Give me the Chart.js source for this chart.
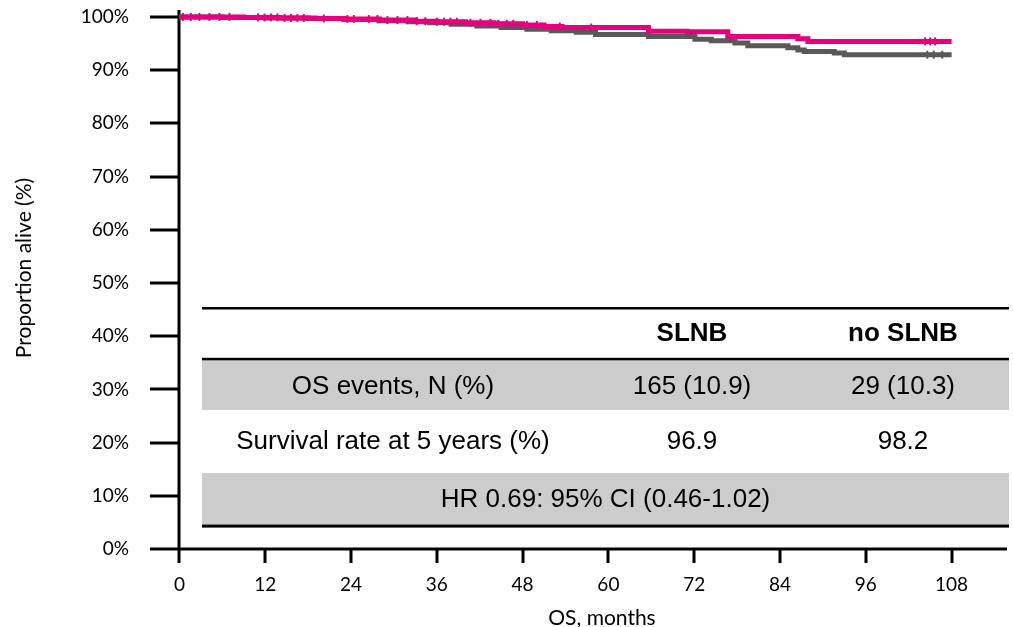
<!DOCTYPE html>
<html>
<head>
<meta charset="utf-8">
<script src="https://cdn.jsdelivr.net/npm/chart.js@4.4.0/dist/chart.umd.min.js"></script>
<style>
html,body{margin:0;padding:0;background:#ffffff;}
#wrap{width:1013px;height:627px;position:relative;}
canvas{display:block;}
</style>
</head>
<body>
<div id="wrap"><canvas id="c" width="1013" height="627"></canvas></div>
<script>
// ---- data ----
const xTicks = [0, 12, 24, 36, 48, 60, 72, 84, 96, 108];
const yTicks = [0, 10, 20, 30, 40, 50, 60, 70, 80, 90, 100];

// no SLNB (pink) Kaplan-Meier steps: time (months) and survival (%)
const noSlnbTimes = [0, 9, 14, 19, 23, 28, 33, 36, 40, 44, 48, 51, 53.5, 65.6, 71, 76.7, 86.5, 87.9, 108];
const noSlnbSurv  = [100, 99.9, 99.8, 99.7, 99.6, 99.4, 99.2, 99.1, 98.9, 98.7, 98.5, 98.2, 98.0, 97.3, 97.2, 96.3, 95.9, 95.4, 95.4];

// SLNB (grey)
const slnbTimes = [0, 6, 12, 18, 23, 28, 32, 35, 38, 41.6, 45, 48.6, 52, 55.5, 58.2, 65.6, 72.1, 74.4, 77.7, 79.5, 85.1, 86.5, 87.4, 91.6, 93, 108];
const slnbSurv  = [100, 99.9, 99.8, 99.7, 99.5, 99.3, 99.1, 98.9, 98.6, 98.3, 98.0, 97.7, 97.4, 97.1, 96.7, 96.3, 95.8, 95.5, 95.1, 94.6, 94.2, 93.8, 93.5, 93.2, 92.9, 92.9];

// censoring marks (months)
const noSlnbCensor = [0.5, 1.6, 2.8, 4.2, 5.6, 7.0, 11.0, 11.9, 12.8, 13.7, 14.7, 15.6, 16.5, 17.4, 20.2, 23.5, 24.4, 26.5, 27.7, 29.1, 30.5, 31.9, 33.2, 34.4, 36.0, 37.0, 37.9, 38.8, 40.7, 42.1, 43.5, 44.6, 45.8, 46.7, 48.6, 50.0, 53.2, 57.6, 104.3, 105.0, 105.7];
const slnbCensor = [104.6, 105.5, 106.7];

// table
const tableColumns = ['', 'SLNB', 'no SLNB'];
const tableRowLabels = ['OS events, N (%)', 'Survival rate at 5 years (%)'];
const tableSlnb = ['165 (10.9)', '96.9'];
const tableNoSlnb = ['29 (10.3)', '98.2'];
const hrText = 'HR 0.69: 95% CI (0.46-1.02)';

const yTitle = 'Proportion alive (%)';
const xTitle = 'OS, months';

// ---- helpers ----
function survAt(times, surv, t) {
  let v = surv[0];
  for (let i = 0; i < times.length; i++) { if (times[i] <= t) v = surv[i]; }
  return v;
}
const toXY = (times, surv) => times.map((t, i) => ({x: t, y: surv[i]}));
const censorXY = (cens, times, surv) => cens.map(t => ({x: t, y: survAt(times, surv, t)}));

const PINK = '#E6007E';
const GREY = '#595959';
const TICK_FONT = 'Lato, "Open Sans", sans-serif';
const TABLE_FONT = '"Liberation Sans", Arial, sans-serif';

const overlay = {
  id: 'overlay',
  beforeDatasetsDraw(chart) {
    const ctx = chart.ctx, xs = chart.scales.x, ys = chart.scales.y, ca = chart.chartArea;
    const x0 = Math.round(xs.getPixelForValue(0));
    const y0 = Math.round(ys.getPixelForValue(0));
    ctx.save();
    ctx.strokeStyle = '#000';
    ctx.lineWidth = 3;
    ctx.beginPath();
    ctx.moveTo(x0, ca.top); ctx.lineTo(x0, ca.bottom);
    ctx.moveTo(ca.left, y0); ctx.lineTo(ca.right, y0);
    yTicks.forEach(v => { const p = Math.round(ys.getPixelForValue(v)); ctx.moveTo(ca.left, p); ctx.lineTo(x0, p); });
    xTicks.forEach(v => { const p = Math.round(xs.getPixelForValue(v)); ctx.moveTo(p, y0); ctx.lineTo(p, ca.bottom); });
    ctx.stroke();
    ctx.restore();
  },
  afterDraw(chart) {
    const ctx = chart.ctx;
    ctx.save();
    // axis titles
    ctx.fillStyle = '#000';
    ctx.font = '21px ' + TICK_FONT;
    ctx.textAlign = 'center';
    ctx.textBaseline = 'middle';
    ctx.save();
    ctx.translate(24, 268);
    ctx.rotate(-Math.PI / 2);
    ctx.fillText(yTitle, 0, 0);
    ctx.restore();
    ctx.fillText(xTitle, 602, 618);

    // table
    const L = 202, R = 1009;
    ctx.fillStyle = '#CCCCCC';
    ctx.fillRect(L, 360, R - L, 50);
    ctx.fillRect(L, 473, R - L, 52);
    ctx.fillStyle = '#000';
    ctx.fillRect(L, 307, R - L, 2.5);
    ctx.fillRect(L, 357.8, R - L, 2.5);
    ctx.fillRect(L, 524.6, R - L, 3);

    const colX = [393, 692, 903];
    ctx.fillStyle = '#000';
    ctx.textAlign = 'center';
    ctx.textBaseline = 'middle';
    ctx.font = 'bold 26px ' + TABLE_FONT;
    tableColumns.forEach((c, i) => { if (c) ctx.fillText(c, colX[i], 334); });
    ctx.font = '26px ' + TABLE_FONT;
    const rowY = [387, 442];
    tableRowLabels.forEach((lab, i) => {
      ctx.fillText(lab, colX[0], rowY[i]);
      ctx.fillText(tableSlnb[i], colX[1], rowY[i]);
      ctx.fillText(tableNoSlnb[i], colX[2], rowY[i]);
    });
    ctx.fillText(hrText, (L + R) / 2, 500);
    ctx.restore();
  }
};

new Chart(document.getElementById('c'), {
  type: 'line',
  data: {
    datasets: [
      { label: 'no SLNB censored', data: censorXY(noSlnbCensor, noSlnbTimes, noSlnbSurv), showLine: false,
        pointStyle: 'line', pointRotation: 90, pointRadius: 4, pointBorderWidth: 2, pointBorderColor: PINK, borderColor: PINK },
      { label: 'no SLNB', data: toXY(noSlnbTimes, noSlnbSurv), stepped: true, borderColor: PINK, borderWidth: 5,
        pointRadius: 0, fill: false, borderCapStyle: 'butt' },
      { label: 'SLNB censored', data: censorXY(slnbCensor, slnbTimes, slnbSurv), showLine: false,
        pointStyle: 'line', pointRotation: 90, pointRadius: 4, pointBorderWidth: 2, pointBorderColor: GREY, borderColor: GREY },
      { label: 'SLNB', data: toXY(slnbTimes, slnbSurv), stepped: true, borderColor: GREY, borderWidth: 5,
        pointRadius: 0, fill: false, borderCapStyle: 'butt' }
    ]
  },
  options: {
    responsive: false,
    animation: false,
    devicePixelRatio: 1,
    layout: { padding: { top: 10, right: 3, left: 0, bottom: 0 } },
    plugins: { legend: { display: false }, tooltip: { enabled: false } },
    scales: {
      x: {
        type: 'linear', min: -4.11, max: 115.75,
        afterBuildTicks: s => { s.ticks = xTicks.map(v => ({value: v})); },
        afterFit: s => { s.height = 64; s.paddingLeft = 0; s.paddingRight = 0; },
        grid: { display: false, drawTicks: false }, border: { display: false },
        ticks: { color: '#000', font: { family: TICK_FONT, size: 19 }, padding: 10, maxRotation: 0, autoSkip: false }
      },
      y: {
        type: 'linear', min: -2.63, max: 101.3,
        afterBuildTicks: s => { s.ticks = yTicks.map(v => ({value: v})); },
        afterFit: s => { s.width = 150; s.paddingTop = 0; s.paddingBottom = 0; },
        grid: { display: false, drawTicks: false }, border: { display: false },
        ticks: { color: '#000', font: { family: TICK_FONT, size: 19 }, padding: 21, autoSkip: false,
          callback: v => v + '%' }
      }
    }
  },
  plugins: [overlay]
});
</script>
</body>
</html>
